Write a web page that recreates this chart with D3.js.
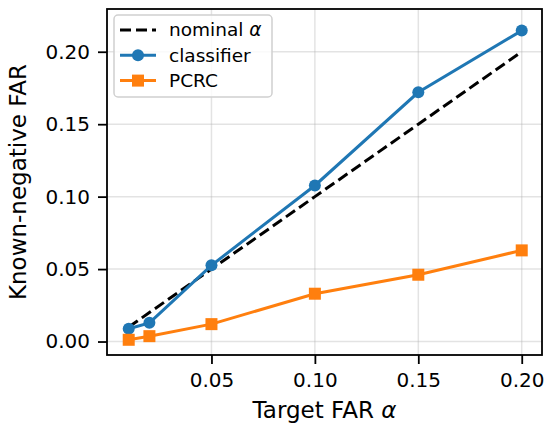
<!DOCTYPE html>
<html>
<head>
<meta charset="utf-8">
<script src="https://cdn.jsdelivr.net/npm/d3@7"></script>
<style>
  body { margin: 0; background: #fff; }
  text { font-family: "DejaVu Sans", sans-serif; fill: #000; }
</style>
</head>
<body>
<div class="canvas"></div>
<script>
// data
const targetFar = [0.01, 0.02, 0.05, 0.10, 0.15, 0.20];
const nominal = [0.01, 0.02, 0.05, 0.10, 0.15, 0.20];
const classifier = [0.0088, 0.0129, 0.0526, 0.1077, 0.172, 0.2146];
const pcrc = [0.0012, 0.0037, 0.012, 0.033, 0.0461, 0.0629];
const xTicks = [0.05, 0.10, 0.15, 0.20];
const yTicks = [0.00, 0.05, 0.10, 0.15, 0.20];

const width = 550;
const height = 433;
const margin = { top: 9, right: 8, bottom: 78, left: 107 };
const innerW = width - margin.left - margin.right;
const innerH = height - margin.top - margin.bottom;

const svg = d3
  .select('.canvas')
  .append('svg')
  .attr('width', width)
  .attr('height', height);

const graph = svg
  .append('g')
  .attr('transform', `translate(${margin.left}, ${margin.top})`);

const x = d3.scaleLinear().domain([-0.0005, 0.2098]).range([0, innerW]);
const y = d3.scaleLinear().domain([-0.0093, 0.2295]).range([innerH, 0]);

// grid
graph
  .append('g')
  .selectAll('line')
  .data(xTicks)
  .join('line')
  .attr('x1', d => x(d))
  .attr('x2', d => x(d))
  .attr('y1', 0)
  .attr('y2', innerH)
  .attr('stroke', '#b0b0b0')
  .attr('stroke-opacity', 0.35)
  .attr('stroke-width', 1.5);

graph
  .append('g')
  .selectAll('line')
  .data(yTicks)
  .join('line')
  .attr('x1', 0)
  .attr('x2', innerW)
  .attr('y1', d => y(d))
  .attr('y2', d => y(d))
  .attr('stroke', '#b0b0b0')
  .attr('stroke-opacity', 0.35)
  .attr('stroke-width', 1.5);

// axes
const xAxis = d3
  .axisBottom(x)
  .tickValues(xTicks)
  .tickFormat(d3.format('.2f'))
  .tickSize(9)
  .tickPadding(9);

const yAxis = d3
  .axisLeft(y)
  .tickValues(yTicks)
  .tickFormat(d3.format('.2f'))
  .tickSize(9)
  .tickPadding(8);

const xG = graph
  .append('g')
  .attr('transform', `translate(0, ${innerH})`)
  .call(xAxis);
const yG = graph.append('g').call(yAxis);

[xG, yG].forEach(g => {
  g.select('.domain').remove();
  g.selectAll('line').attr('stroke', '#000').attr('stroke-width', 1.8);
  g.selectAll('text')
    .attr('font-size', 20)
    .attr('font-family', '"DejaVu Sans", sans-serif')
    .attr('fill', '#000');
});

// series
const series = [
  { name: 'nominal', values: nominal, color: '#000', dash: '11,5', marker: null },
  { name: 'classifier', values: classifier, color: '#1f77b4', dash: null, marker: 'circle' },
  { name: 'PCRC', values: pcrc, color: '#ff7f0e', dash: null, marker: 'square' }
];

const line = d3
  .line()
  .x(d => x(d[0]))
  .y(d => y(d[1]));

series.forEach(s => {
  const pts = targetFar.map((t, i) => [t, s.values[i]]);
  graph
    .append('path')
    .datum(pts)
    .attr('d', line)
    .attr('fill', 'none')
    .attr('stroke', s.color)
    .attr('stroke-width', 3)
    .attr('stroke-dasharray', s.dash);

  if (s.marker === 'circle') {
    graph
      .append('g')
      .selectAll('circle')
      .data(pts)
      .join('circle')
      .attr('cx', d => x(d[0]))
      .attr('cy', d => y(d[1]))
      .attr('r', 6)
      .attr('fill', s.color);
  } else if (s.marker === 'square') {
    graph
      .append('g')
      .selectAll('rect')
      .data(pts)
      .join('rect')
      .attr('x', d => x(d[0]) - 6)
      .attr('y', d => y(d[1]) - 6)
      .attr('width', 12)
      .attr('height', 12)
      .attr('fill', s.color);
  }
});

// frame
graph
  .append('rect')
  .attr('width', innerW)
  .attr('height', innerH)
  .attr('fill', 'none')
  .attr('stroke', '#000')
  .attr('stroke-width', 1.8);

// axis labels
svg
  .append('text')
  .attr('x', margin.left + innerW / 2)
  .attr('y', 418)
  .attr('text-anchor', 'middle')
  .attr('font-size', 23)
  .html('Target FAR <tspan font-style="italic">α</tspan>');

svg
  .append('text')
  .attr('transform', `translate(26, ${margin.top + innerH / 2}) rotate(-90)`)
  .attr('text-anchor', 'middle')
  .attr('font-size', 23)
  .text('Known-negative FAR');

// legend
const legendGroup = graph.append('g').attr('transform', 'translate(7, 6)');

legendGroup
  .append('rect')
  .attr('width', 158)
  .attr('height', 82)
  .attr('rx', 4)
  .attr('fill', '#fff')
  .attr('fill-opacity', 0.8)
  .attr('stroke', '#d0d0d0')
  .attr('stroke-width', 1.5);

const legendLabels = ['nominal <tspan font-style="italic">α</tspan>', 'classifier', 'PCRC'];

series.forEach((s, i) => {
  const cy = 15 + i * 25.3;
  const row = legendGroup.append('g').attr('transform', `translate(0, ${cy})`);
  row
    .append('line')
    .attr('x1', 6)
    .attr('x2', 42)
    .attr('stroke', s.color)
    .attr('stroke-width', 3)
    .attr('stroke-dasharray', s.dash);
  if (s.marker === 'circle') {
    row.append('circle').attr('cx', 24).attr('r', 6).attr('fill', s.color);
  } else if (s.marker === 'square') {
    row.append('rect').attr('x', 18).attr('y', -6).attr('width', 12).attr('height', 12).attr('fill', s.color);
  }
  row
    .append('text')
    .attr('x', 55)
    .attr('dy', '0.35em')
    .attr('font-size', 18.5)
    .html(legendLabels[i]);
});
</script>
</body>
</html>
